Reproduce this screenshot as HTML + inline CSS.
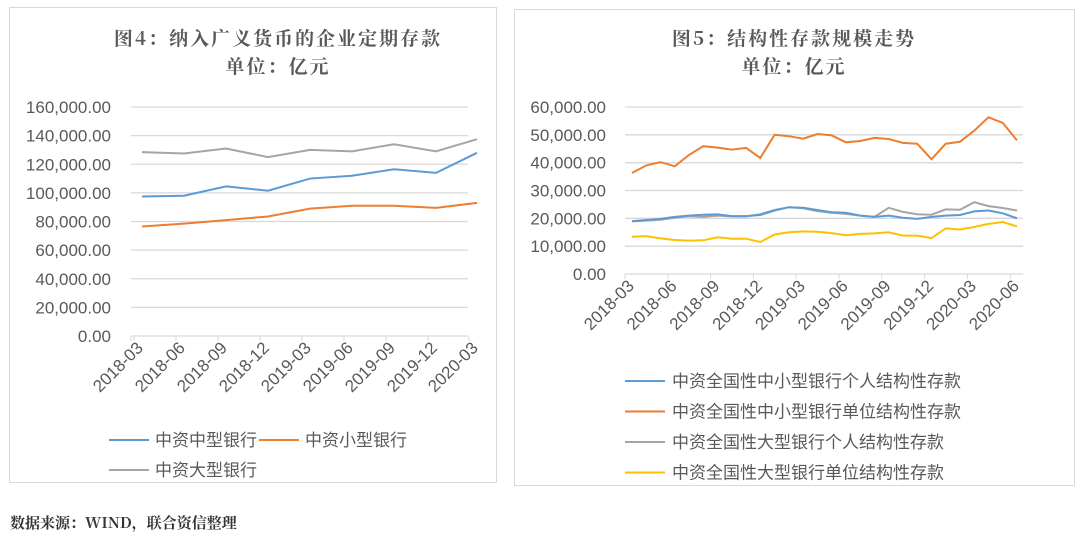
<!DOCTYPE html>
<html><head><meta charset="utf-8"><style>
body{margin:0;background:#fff;}
svg{display:block;}
.t{font-family:"Noto Serif CJK SC","Liberation Serif",serif;font-size:19px;fill:#595959;font-weight:bold;letter-spacing:2px;}
.a{font-family:"Liberation Sans",sans-serif;font-size:17px;fill:#595959;}
.l{font-family:"Liberation Sans","Noto Sans CJK SC",sans-serif;font-size:17px;fill:#595959;}
</style></head><body>
<svg width="1080" height="537" xmlns="http://www.w3.org/2000/svg">
<rect x="9.5" y="7.5" width="487" height="475" fill="#fff" stroke="#d9d9d9"/>
<rect x="514.5" y="9.5" width="560" height="476" fill="#fff" stroke="#d9d9d9"/>
<text class="t" x="278" y="45" text-anchor="middle">图4：纳入广义货币的企业定期存款</text>
<text class="t" x="278" y="73" text-anchor="middle">单位：亿元</text>
<text class="t" x="794" y="45" text-anchor="middle">图5：结构性存款规模走势</text>
<text class="t" x="794" y="73" text-anchor="middle">单位：亿元</text>
<g id="L"></g><g id="R"></g>
<text x="10" y="528" style="font-family:'Noto Serif CJK SC','Liberation Serif',serif;font-size:15px;font-weight:bold;fill:#333">数据来源：WIND，联合资信整理</text>
</svg>
<script>
const NS="http://www.w3.org/2000/svg";
function el(p,n,a,t){const e=document.createElementNS(NS,n);for(const k in a)e.setAttribute(k,a[k]);if(t)e.textContent=t;p.appendChild(e);return e;}
function fmt(v){return v.toLocaleString('en-US')+'.00';}
(function(){
const g=document.getElementById('L');const x0=131,x1=468,y0=336,yt=107;
const yv=v=>y0-(v/160)*(y0-yt);
for(let i=0;i<=8;i++){const y=yv(i*20);el(g,'line',{x1:x0,x2:x1,y1:y,y2:y,stroke:'#d9d9d9','stroke-width':1.3});
el(g,'text',{class:'a',x:111,y:y+6,'text-anchor':'end'},fmt(i*20000));}
const xs=[142,184,226,268,310,352,394,436,477];
xs.forEach(x=>el(g,'line',{x1:x-8,x2:x-8,y1:y0,y2:y0+5,stroke:'#d9d9d9'}));
el(g,'line',{x1:x0,x2:x0,y1:y0,y2:y0+5,stroke:'#d9d9d9'});
const lab=['2018-03','2018-06','2018-09','2018-12','2019-03','2019-06','2019-09','2019-12','2020-03'];
lab.forEach((s,i)=>el(g,'text',{class:'a',x:xs[i]+2,y:349,'text-anchor':'end',transform:`rotate(-45 ${xs[i]+2} 349)`},s));
const S=[['#a5a5a5',[128.5,127.5,131,125,130,129,134,129,137.5]],['#5b9bd5',[97.5,98,104.5,101.5,110,112,116.5,114,128]],['#ed7d31',[76.5,78.5,81,83.5,89,91,91,89.5,93]]];
S.forEach(([c,d])=>el(g,'polyline',{points:d.map((v,i)=>xs[i]+','+yv(v)).join(' '),fill:'none',stroke:c,'stroke-width':2}));
el(g,'line',{x1:109,x2:149,y1:440,y2:440,stroke:'#5b9bd5','stroke-width':2});el(g,'text',{class:'l',x:155,y:446},'中资中型银行');
el(g,'line',{x1:259,x2:299,y1:440,y2:440,stroke:'#ed7d31','stroke-width':2});el(g,'text',{class:'l',x:305,y:446},'中资小型银行');
el(g,'line',{x1:109,x2:149,y1:470,y2:470,stroke:'#a5a5a5','stroke-width':2});el(g,'text',{class:'l',x:155,y:476},'中资大型银行');
})();
(function(){
const g=document.getElementById('R');const x0=625,x1=1023,y0=274,yt=107;
const yv=v=>y0-(v/60)*(y0-yt);
for(let i=0;i<=6;i++){const y=yv(i*10);el(g,'line',{x1:x0,x2:x1,y1:y,y2:y,stroke:'#d9d9d9','stroke-width':1.3});
el(g,'text',{class:'a',x:606,y:y+6,'text-anchor':'end'},fmt(i*10000));}
const xs=[];for(let i=0;i<28;i++)xs.push(632+i*14.26);
for(let i=0;i<10;i++){const x=x0+i*42.8;el(g,'line',{x1:x,x2:x,y1:y0,y2:y0+5,stroke:'#d9d9d9'});}
const lab=['2018-03','2018-06','2018-09','2018-12','2019-03','2019-06','2019-09','2019-12','2020-03','2020-06'];
lab.forEach((s,i)=>{const x=xs[i*3]+3;el(g,'text',{class:'a',x:x,y:287,'text-anchor':'end',transform:`rotate(-45 ${x} 287)`},s);});
const S=[
['#a5a5a5',[18.9,19.2,19.5,20.2,20.8,20.5,21,20.7,20.7,21.5,23,24,23.6,22.6,22,21.6,21,20.5,23.8,22.3,21.5,21.3,23.2,23.1,25.8,24.4,23.7,22.8]],
['#ffc000',[13.4,13.6,12.8,12.2,12,12.1,13.2,12.7,12.7,11.5,14.2,15,15.3,15.2,14.7,13.9,14.4,14.6,15,13.8,13.8,12.9,16.4,16,16.9,18,18.7,17.1]],
['#5b9bd5',[19,19.4,19.8,20.5,21,21.3,21.4,20.8,20.8,21.2,22.8,24,23.8,23,22.2,22,21,20.5,21,20.2,19.8,20.5,21,21.2,22.5,22.8,21.8,20]],
['#ed7d31',[36.3,39,40.2,38.7,42.8,45.9,45.4,44.7,45.3,41.7,50,49.5,48.6,50.3,49.8,47.3,47.8,48.9,48.5,47.1,46.8,41.2,46.8,47.5,51.5,56.3,54.3,48]]];
S.forEach(([c,d])=>el(g,'polyline',{points:d.map((v,i)=>xs[i].toFixed(1)+','+yv(v).toFixed(1)).join(' '),fill:'none',stroke:c,'stroke-width':2}));
const L=[['#5b9bd5','中资全国性中小型银行个人结构性存款'],['#ed7d31','中资全国性中小型银行单位结构性存款'],['#a5a5a5','中资全国性大型银行个人结构性存款'],['#ffc000','中资全国性大型银行单位结构性存款']];
L.forEach(([c,t],i)=>{const y=381+i*30.5;el(g,'line',{x1:625,x2:665,y1:y,y2:y,stroke:c,'stroke-width':2});el(g,'text',{class:'l',x:672,y:y+6},t);});
})();
</script>
</body></html>
